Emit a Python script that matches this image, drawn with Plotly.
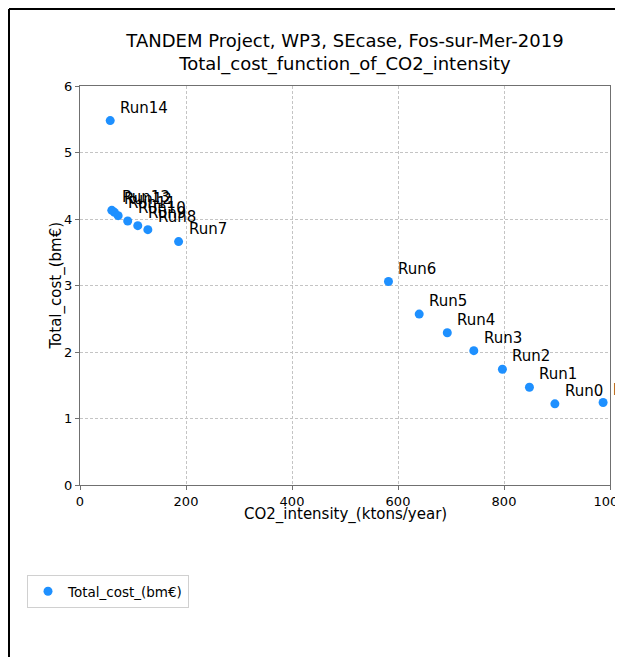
import plotly.graph_objects as go

# values
runs = ["Run0", "Run1", "Run2", "Run3", "Run4", "Run5", "Run6", "Run7",
        "Run8", "Run9", "Run10", "Run11", "Run12", "Run13", "Run14", "Run15"]
co2_intensity = [896, 848, 797, 743, 693, 640, 582, 186,
                 128, 109, 90, 72, 65, 60, 57, 987]
total_cost = [1.22, 1.47, 1.74, 2.02, 2.29, 2.57, 3.06, 3.66,
              3.84, 3.90, 3.97, 4.05, 4.10, 4.13, 5.48, 1.24]

x_ticks = [0, 200, 400, 600, 800, 1000]
y_ticks = [0, 1, 2, 3, 4, 5, 6]

font = "DejaVu Sans"
blue = "#1E90FF"

fig = go.Figure()
fig.add_trace(go.Scatter(
    x=co2_intensity, y=total_cost, mode="markers", name="Total_cost_(bm€)",
    marker=dict(color=blue, size=9), cliponaxis=False,
))

# run labels, offset up-right of each point like matplotlib annotate
for name, cx, cy in zip(runs, co2_intensity, total_cost):
    fig.add_annotation(x=cx, y=cy, text=name, showarrow=False,
                       xanchor="left", yanchor="middle", xshift=8, yshift=13,
                       font=dict(family=font, size=15, color="black"))

axis_style = dict(showline=True, mirror=True, linecolor="#707070", linewidth=1,
                  ticks="outside", ticklen=4, tickcolor="#707070", automargin=False,
                  showgrid=True, gridcolor="#c4c4c4", griddash="3px,2px", gridwidth=0.8,
                  zeroline=False, tickfont=dict(family=font, size=13, color="black"))

fig.update_xaxes(range=[0, 1000], tickvals=x_ticks, **axis_style)
fig.update_yaxes(range=[0, 6], tickvals=y_ticks, **axis_style)

# axis titles
fig.add_annotation(xref="paper", yref="paper", x=0.5, y=-0.0727, text="CO2_intensity_(ktons/year)",
                   showarrow=False, xanchor="center", yanchor="middle",
                   font=dict(family=font, size=15, color="black"))
fig.add_annotation(xref="paper", yref="paper", x=-0.0434, y=0.5, text="Total_cost_(bm€)",
                   showarrow=False, textangle=-90, xanchor="center", yanchor="middle",
                   font=dict(family=font, size=15, color="black"))

# screenshot frame lines (left and top edge)
frame_left = (1 - 72) / 530
frame_top = 1 + 77 / 399
fig.add_shape(type="line", xref="paper", yref="paper", x0=frame_left, x1=frame_left,
              y0=-0.5, y1=frame_top, line=dict(color="black", width=2))
fig.add_shape(type="line", xref="paper", yref="paper", x0=frame_left, x1=1.1,
              y0=frame_top, y1=frame_top, line=dict(color="black", width=2))

fig.update_layout(
    width=623, height=657,
    margin=dict(l=72, r=21, t=78, b=180, autoexpand=False),
    paper_bgcolor="white", plot_bgcolor="white",
    title=dict(text="TANDEM Project, WP3, SEcase, Fos-sur-Mer-2019<br>Total_cost_function_of_CO2_intensity",
               x=0.5, xref="paper", xanchor="center", y=(657 - 39) / 657, yanchor="middle",
               font=dict(family=font, size=18, color="black")),
    showlegend=True,
    legend=dict(x=-0.1, y=-0.2256, xanchor="left", yanchor="top",
                bordercolor="#d0d0d0", borderwidth=1,
                font=dict(family=font, size=13.5, color="black")),
)

fig.write_html("out.html")
